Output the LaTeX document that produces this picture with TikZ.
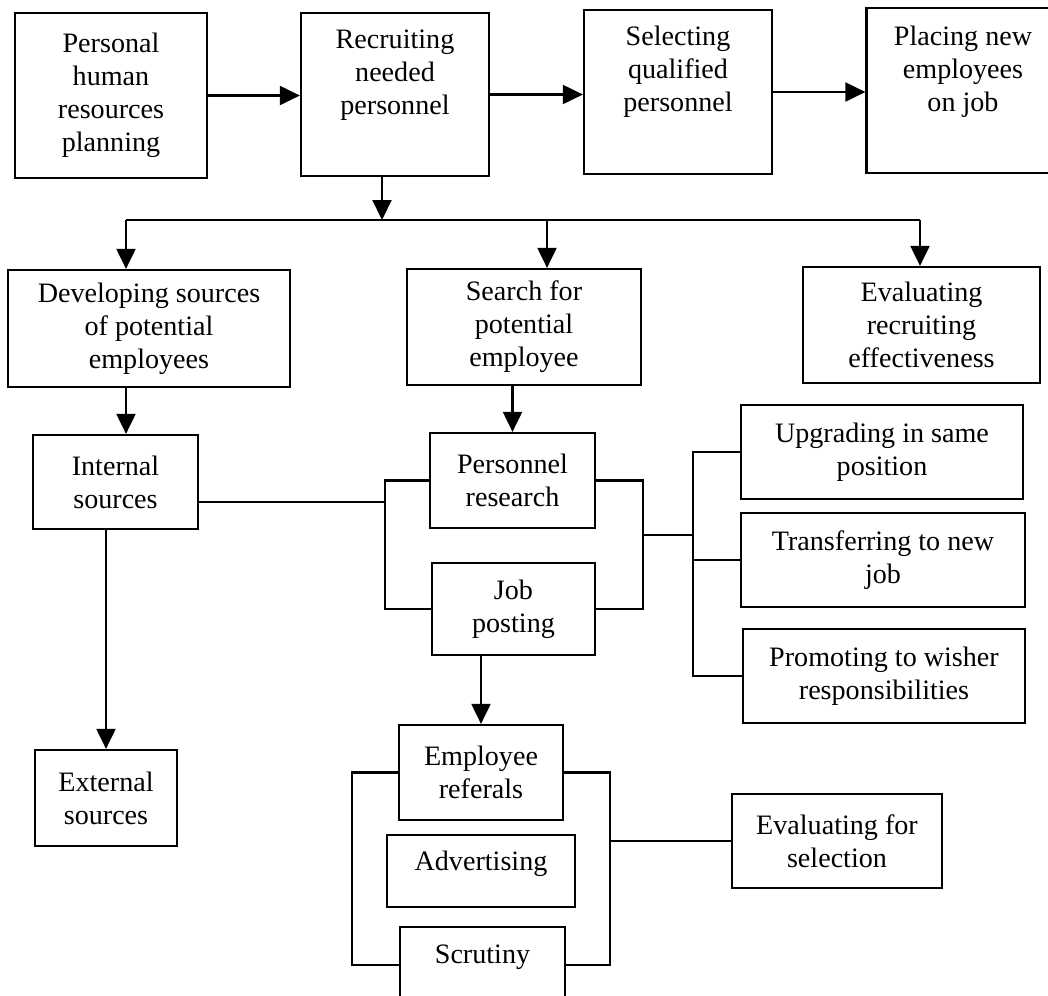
\documentclass[tikz,border=0pt]{standalone}
\usepackage{fontspec}
\setmainfont{Liberation Serif}
\usetikzlibrary{arrows.meta,positioning}

\newcommand{\lift}[2][0.4cm]{\raisebox{#1}[\height][\depth]{\begin{tabular}{@{}c@{}}#2\end{tabular}}}

\begin{document}
\begin{tikzpicture}[
    x=0.02cm, y=-0.02cm,
    every node/.style={font={\fontsize{16pt}{18.8pt}\selectfont}},
    box/.style={draw, line width=1.3pt, align=center, inner sep=2pt},
    flow/.style={-{Triangle[length=0.4cm, width=0.38cm]}, line width=1.2pt},
    link/.style={line width=1.2pt}
]
\useasboundingbox (0,0) rectangle (1048,995);
% main chain
\node[box, minimum width=3.84cm, minimum height=3.30cm] (plan) at (111,95.5) {Personal\\human\\resources\\planning};
\node[box, minimum width=3.76cm, minimum height=3.26cm] (recruit) at (395,94.5) {\lift{Recruiting\\needed\\personnel}};
\node[box, minimum width=3.76cm, minimum height=3.28cm] (qualify) at (678,92) {\lift{Selecting\\qualified\\personnel}};
\node[box, minimum width=3.86cm, minimum height=3.30cm] (place) at (963,90.5) {\lift[0.37cm]{Placing new\\employees\\on job}};
\draw[flow] (plan.east) -- (plan.east -| recruit.west);
\draw[flow] (recruit.east) -- (recruit.east -| qualify.west);
\draw[flow] (qualify.east) -- (qualify.east -| place.west);

% recruiting branches
\node[box, minimum width=5.64cm, minimum height=2.34cm] (develop) at (149,328.5) {Developing sources\\of potential\\employees};
\node[box, minimum width=4.68cm, minimum height=2.32cm] (search) at (524,327) {Search for\\potential\\employee};
\node[box, minimum width=4.74cm, minimum height=2.32cm] (evalrec) at (921.5,325) {Evaluating\\recruiting\\effectiveness};
\coordinate (fork) at (382,220);
\coordinate (forkL) at (126,220);
\coordinate (forkM) at (547,220);
\coordinate (forkR) at (920,220);
\draw[flow] (recruit.south -| fork) -- (fork);
\draw[link] (forkL) -- (forkR);
\draw[flow] (forkL) -- (forkL |- develop.north);
\draw[flow] (forkM) -- (forkM |- search.north);
\draw[flow] (forkR) -- (forkR |- evalrec.north);

% sources
\node[box, minimum width=3.30cm, minimum height=1.88cm] (internal) at (115.5,482) {Internal\\sources};
\node[box, minimum width=2.84cm, minimum height=1.92cm] (external) at (106,798) {External\\sources};
\node[box, minimum width=3.30cm, minimum height=1.90cm] (personnel) at (512.5,480.5) {Personnel\\research};
\node[box, minimum width=3.26cm, minimum height=1.84cm] (jobpost) at (513.5,609) {Job\\posting};
\draw[flow] (develop.south -| forkL) -- (forkL |- internal.north);
\draw[flow] (search.south -| personnel.north) -- (personnel.north);
\draw[flow] (internal.south -| external.north) -- (external.north);

% internal moves
\node[box, minimum width=5.64cm, minimum height=1.88cm] (upgrade) at (882,452) {Upgrading in same\\position};
\node[box, minimum width=5.68cm, minimum height=1.88cm] (transfer) at (883,560) {Transferring to new\\job};
\node[box, minimum width=5.64cm, minimum height=1.88cm] (promote) at (884,676) {Promoting to wisher\\responsibilities};
\coordinate (joinL) at (385,502);
\coordinate (joinR) at (643,535);
\coordinate (fan) at (693,535);
\draw[link] (internal.east |- joinL) -- (joinL);
\draw[link] (personnel.west) -| (joinL) |- (jobpost.west);
\draw[link] (personnel.east) -| (joinR) |- (jobpost.east);
\draw[link] (joinR) -- (fan);
\draw[link] (upgrade.west) -| (fan) |- (promote.west);
\draw[link] (fan |- transfer.west) -- (transfer.west);

% external channels
\node[box, minimum width=3.28cm, minimum height=1.90cm] (referral) at (481,772.5) {Employee\\referals};
\node[box, minimum width=3.76cm, minimum height=1.44cm] (advert) at (481,871) {\lift[0.14cm]{Advertising}};
\node[box, minimum width=3.30cm, minimum height=1.52cm] (scrutiny) at (482.5,965) {\lift[0.16cm]{Scrutiny}};
\node[box, minimum width=4.20cm, minimum height=1.88cm] (evalsel) at (837,841) {Evaluating for\\selection};
\coordinate (gatherL) at (352,870);
\coordinate (gatherR) at (610,841);
\draw[flow] (jobpost.south -| referral.north) -- (referral.north);
\draw[link] (referral.west) -| (gatherL) |- (scrutiny.west);
\draw[link] (referral.east) -| (gatherR) |- (scrutiny.east);
\draw[link] (gatherR) -- (evalsel.west);
\end{tikzpicture}
\end{document}
